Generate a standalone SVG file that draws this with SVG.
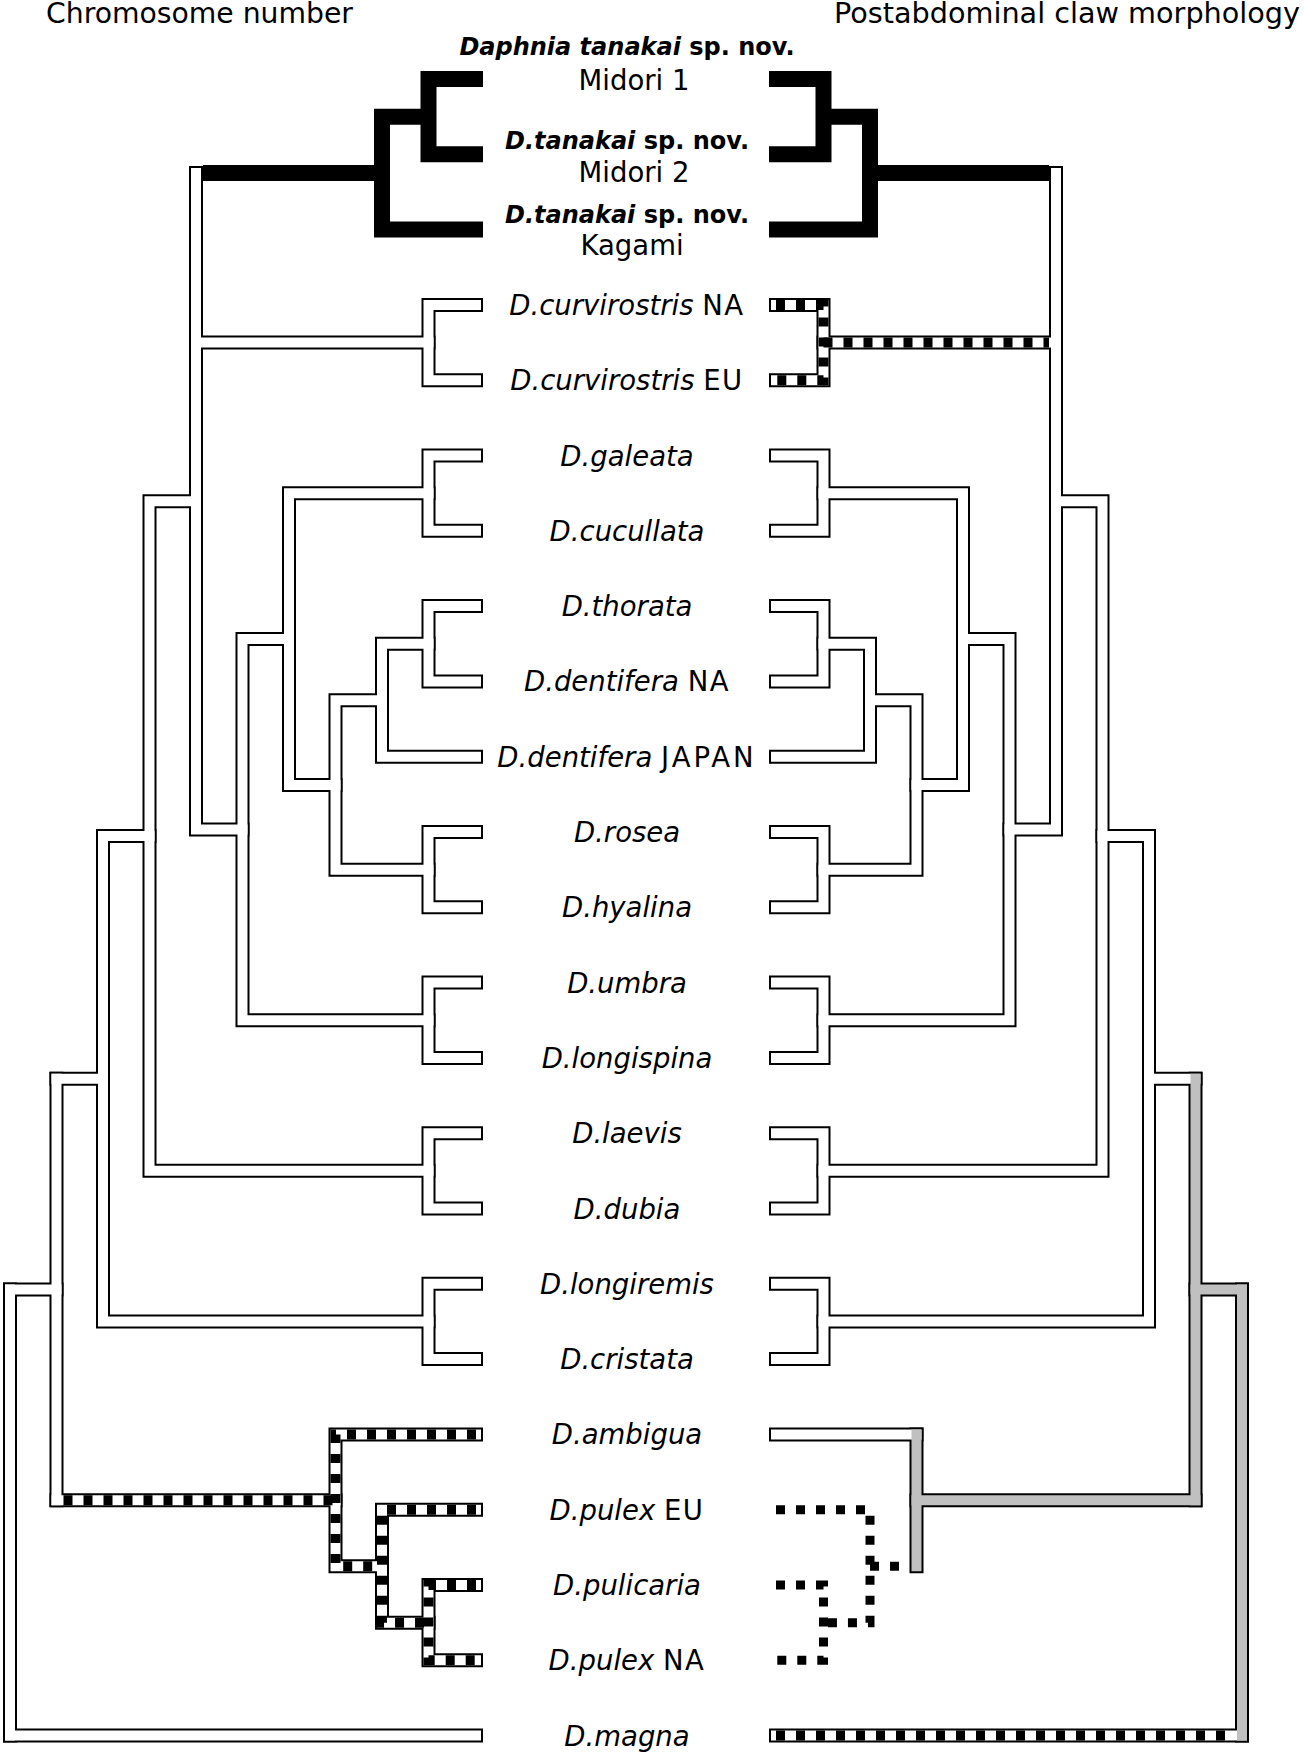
<svg xmlns="http://www.w3.org/2000/svg" width="1304" height="1756" viewBox="0 0 1304 1756">
<style>
.ol{fill:none;stroke:#000;stroke-width:14;stroke-linecap:square;stroke-linejoin:miter}
.wh{fill:none;stroke:#fff;stroke-width:10;stroke-linecap:square;stroke-linejoin:miter}
.gr{fill:none;stroke:#c0c0c0;stroke-width:10;stroke-linecap:square;stroke-linejoin:miter}
.ck{fill:none;stroke:#000;stroke-width:10;stroke-dasharray:9 11;stroke-linecap:butt;stroke-linejoin:miter}
.dt{fill:none;stroke:#000;stroke-width:9;stroke-dasharray:9 11;stroke-linecap:butt;stroke-linejoin:miter}
.bk{fill:none;stroke:#000;stroke-width:16;stroke-linecap:butt;stroke-linejoin:miter}
text{font-family:"DejaVu Sans","Liberation Sans",sans-serif;fill:#000}
.sp{font-size:27.5px;text-anchor:middle}
.tk{font-size:24px;font-weight:bold;text-anchor:middle}
.it{font-style:italic}
.ls{letter-spacing:1.5px}
.ttl{font-size:28px}
</style>
<defs>
<path id="tanA" d="M483 79H428.5V154.3H483"/>
<path id="tanB" d="M428.5 116.65H382V229.6H483"/>
<path id="tanC" d="M382 173.1H203"/>
<path id="curvBr" d="M476 304.9H428.5V380.2H476"/>
<path id="curvLn" d="M196 342.55H428.5"/>
<path id="curvLnD" d="M428.5 342.55H203"/>
<path id="galBr" d="M476 455.5H428.5V530.8H476"/>
<path id="tdBr" d="M476 606.1H428.5V681.4H476"/>
<path id="tddBr" d="M428.5 643.75H382V756.7H476"/>
<path id="rhBr" d="M476 832H428.5V907.3H476"/>
<path id="cBr" d="M382 700.2H335.5V869.65H428.5"/>
<path id="dBr" d="M428.5 493.15H289V784.9H335.5"/>
<path id="ulBr" d="M476 982.6H428.5V1057.9H476"/>
<path id="eBr" d="M289 639H242.5V1020.25H428.5"/>
<path id="fBr" d="M196 173.1V829.6H242.5"/>
<path id="ldBr" d="M476 1133.2H428.5V1208.5H476"/>
<path id="gBr" d="M196 501.35H149.5V1170.85H428.5"/>
<path id="lcBr" d="M476 1283.8H428.5V1359.1H476"/>
<path id="hBr" d="M149.5 836.1H103V1321.45H428.5"/>
<path id="iH" d="M103 1078.8H56.5"/>
<path id="iV" d="M56.5 1078.8V1500.3"/>
<path id="pLn" d="M56.5 1500.3H335.5"/>
<path id="pLnD" d="M63.5 1500.3H335.5"/>
<path id="pulex3" d="M476 1434.4H335.5V1566.2H382"/>
<path id="ambH" d="M476 1434.4H335.5"/>
<path id="p3V" d="M335.5 1434.4V1566.2"/>
<path id="p3toBD" d="M382 1566.2H342.5"/>
<path id="p2Br" d="M476 1509.7H382V1622.65H428.5"/>
<path id="p1Br" d="M476 1585H428.5V1660.3H476"/>
<path id="rootH" d="M56.5 1289.55H10"/>
<path id="rootV" d="M10 1289.55V1735.6"/>
<path id="magH" d="M10 1735.6H476"/>
<path id="magD" d="M476 1735.6H17"/>
</defs>
<rect width="1304" height="1756" fill="#fff"/>
<g id="connectors">
<g id="tree-chromosome">
<g class="ol">
<use href="#curvBr"/><use href="#curvLn"/><use href="#galBr"/><use href="#tdBr"/><use href="#tddBr"/><use href="#rhBr"/><use href="#cBr"/><use href="#dBr"/><use href="#ulBr"/><use href="#eBr"/><use href="#fBr"/><use href="#ldBr"/><use href="#gBr"/><use href="#lcBr"/><use href="#hBr"/><use href="#iH"/><use href="#iV"/><use href="#pLn"/><use href="#pulex3"/><use href="#p2Br"/><use href="#p1Br"/><use href="#rootH"/><use href="#rootV"/><use href="#magH"/>
</g>
<g class="wh">
<use href="#curvBr"/><use href="#curvLn"/><use href="#galBr"/><use href="#tdBr"/><use href="#tddBr"/><use href="#rhBr"/><use href="#cBr"/><use href="#dBr"/><use href="#ulBr"/><use href="#eBr"/><use href="#fBr"/><use href="#ldBr"/><use href="#gBr"/><use href="#lcBr"/><use href="#hBr"/><use href="#iH"/><use href="#iV"/><use href="#pLn"/><use href="#pulex3"/><use href="#p2Br"/><use href="#p1Br"/><use href="#rootH"/><use href="#rootV"/><use href="#magH"/>
</g>
<g class="ck">
<use href="#pLnD"/><use href="#pulex3"/><use href="#p2Br"/><use href="#p1Br"/>
</g>
<g class="bk">
<use href="#tanA"/><use href="#tanB"/><use href="#tanC"/>
</g>
</g>
<g id="tree-claw" transform="matrix(-1 0 0 1 1252 0)">
<g class="ol">
<use href="#curvBr"/><use href="#curvLn"/><use href="#galBr"/><use href="#tdBr"/><use href="#tddBr"/><use href="#rhBr"/><use href="#cBr"/><use href="#dBr"/><use href="#ulBr"/><use href="#eBr"/><use href="#fBr"/><use href="#ldBr"/><use href="#gBr"/><use href="#lcBr"/><use href="#hBr"/><use href="#iH"/><use href="#iV"/><use href="#pLn"/><use href="#ambH"/><use href="#p3V"/><use href="#rootH"/><use href="#rootV"/><use href="#magH"/>
</g>
<g class="wh">
<use href="#curvBr"/><use href="#curvLn"/><use href="#galBr"/><use href="#tdBr"/><use href="#tddBr"/><use href="#rhBr"/><use href="#cBr"/><use href="#dBr"/><use href="#ulBr"/><use href="#eBr"/><use href="#fBr"/><use href="#ldBr"/><use href="#gBr"/><use href="#lcBr"/><use href="#hBr"/><use href="#iH"/><use href="#ambH"/><use href="#magH"/>
</g>
<g class="ck">
<use href="#curvBr"/><use href="#curvLnD"/><use href="#magD"/>
</g>
<g class="gr">
<use href="#iV"/><use href="#pLn"/><use href="#p3V"/><use href="#rootH"/><use href="#rootV"/>
</g>
<g class="dt">
<use href="#p3toBD"/><use href="#p2Br"/><use href="#p1Br"/>
</g>
<g class="bk">
<use href="#tanA"/><use href="#tanB"/><use href="#tanC"/>
</g>
</g>
</g>
<g id="title-chromosome"><text class="ttl" x="46" y="22.5" textLength="307" lengthAdjust="spacingAndGlyphs">Chromosome number</text></g>
<g id="title-claw"><text class="ttl" x="1300" y="22.5" text-anchor="end" textLength="466" lengthAdjust="spacingAndGlyphs">Postabdominal claw morphology</text></g>
<g id="node-tanakai-midori1"><text class="tk" x="627" y="55"><tspan class="it">Daphnia tanakai</tspan> sp. nov.</text><text class="sp" x="634" y="90">Midori 1</text></g>
<g id="node-tanakai-midori2"><text class="tk" x="627" y="148.5"><tspan class="it">D.tanakai</tspan> sp. nov.</text><text class="sp" x="634" y="182">Midori 2</text></g>
<g id="node-tanakai-kagami"><text class="tk" x="627" y="223"><tspan class="it">D.tanakai</tspan> sp. nov.</text><text class="sp" x="632" y="255">Kagami</text></g>
<g id="node-curvirostris-na"><text class="sp" x="627" y="314.9"><tspan class="it">D.curvirostris</tspan> <tspan class="ls">NA</tspan></text></g>
<g id="node-curvirostris-eu"><text class="sp" x="627" y="390.2"><tspan class="it">D.curvirostris</tspan> <tspan class="ls">EU</tspan></text></g>
<g id="node-galeata"><text class="sp it" x="627" y="465.5">D.galeata</text></g>
<g id="node-cucullata"><text class="sp it" x="627" y="540.8">D.cucullata</text></g>
<g id="node-thorata"><text class="sp it" x="627" y="616.1">D.thorata</text></g>
<g id="node-dentifera-na"><text class="sp" x="627" y="691.4"><tspan class="it">D.dentifera</tspan> <tspan class="ls">NA</tspan></text></g>
<g id="node-dentifera-japan"><text class="sp" x="627" y="766.7"><tspan class="it">D.dentifera</tspan> <tspan letter-spacing="3">JAPAN</tspan></text></g>
<g id="node-rosea"><text class="sp it" x="627" y="842">D.rosea</text></g>
<g id="node-hyalina"><text class="sp it" x="627" y="917.3">D.hyalina</text></g>
<g id="node-umbra"><text class="sp it" x="627" y="992.6">D.umbra</text></g>
<g id="node-longispina"><text class="sp it" x="627" y="1067.9">D.longispina</text></g>
<g id="node-laevis"><text class="sp it" x="627" y="1143.2">D.laevis</text></g>
<g id="node-dubia"><text class="sp it" x="627" y="1218.5">D.dubia</text></g>
<g id="node-longiremis"><text class="sp it" x="627" y="1293.8">D.longiremis</text></g>
<g id="node-cristata"><text class="sp it" x="627" y="1369.1">D.cristata</text></g>
<g id="node-ambigua"><text class="sp it" x="627" y="1444.4">D.ambigua</text></g>
<g id="node-pulex-eu"><text class="sp" x="627" y="1519.7"><tspan class="it">D.pulex</tspan> <tspan class="ls">EU</tspan></text></g>
<g id="node-pulicaria"><text class="sp it" x="627" y="1595">D.pulicaria</text></g>
<g id="node-pulex-na"><text class="sp" x="627" y="1670.3"><tspan class="it">D.pulex</tspan> <tspan class="ls">NA</tspan></text></g>
<g id="node-magna"><text class="sp it" x="627" y="1745.6">D.magna</text></g>
</svg>
